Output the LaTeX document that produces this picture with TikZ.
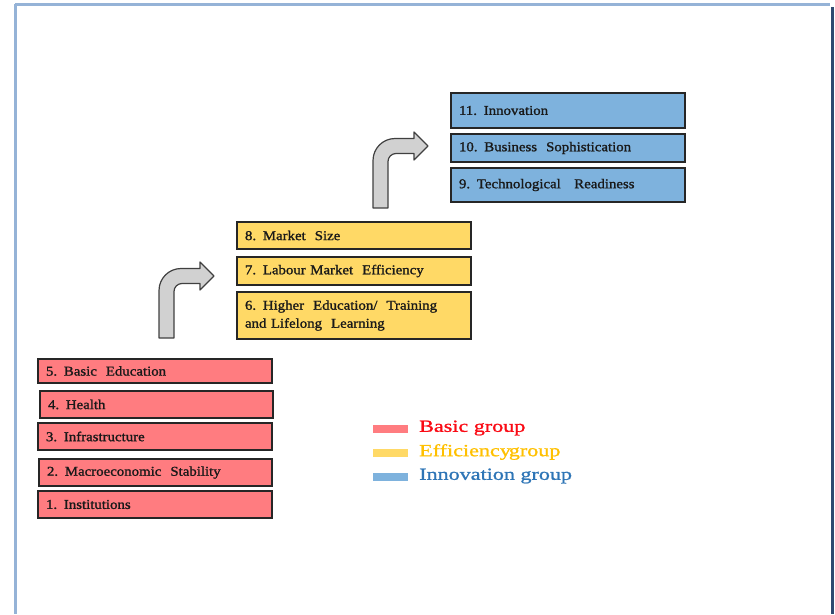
\documentclass[tikz,border=0pt]{standalone}
\usepackage{fontspec}
\setmainfont{Liberation Serif}
\newfontfamily\boxfont{Liberation Serif}[FakeStretch=1.1,FakeBold=1.3]
\newfontfamily\legfont{Liberation Serif}[FakeStretch=1.3,FakeBold=1.2]
\definecolor{basicfill}{RGB}{255,124,128}
\definecolor{efffill}{RGB}{255,217,102}
\definecolor{innofill}{RGB}{126,178,221}
\definecolor{basictext}{RGB}{250,10,20}
\definecolor{efftext}{RGB}{255,192,0}
\definecolor{innotext}{RGB}{46,117,182}
\definecolor{frameLight}{RGB}{149,179,215}
\definecolor{frameDark}{RGB}{47,74,112}
\newcommand\bentarrow[5]{% L B C H T
\draw[barrow] (#1,#2) -- (#1,{#3-7.5+22})
 .. controls (#1,{#3-7.5+22*0.448}) and ({#1+22*0.448},{#3-7.5}) .. ({#1+22},{#3-7.5})
 -- (#4,{#3-7.5}) -- (#4,{#3-14}) -- (#5,#3) -- (#4,{#3+14}) -- (#4,{#3+7.5})
 -- ({#1+23},{#3+7.5})
 .. controls ({#1+15+8*0.448},{#3+7.5}) and ({#1+15},{#3+7.5+8*0.448}) .. ({#1+15},{#3+15.5})
 -- ({#1+15},#2) -- cycle;}
\begin{document}
\begin{tikzpicture}[x=1pt,y=-1pt,
  gbox/.style={draw=black!85,line width=1.3pt,inner xsep=8pt,inner ysep=0pt,
    align=left,font=\boxfont\fontsize{13.5}{18}\selectfont,text=black!90},
  bbox/.style={gbox,fill=basicfill},
  ebox/.style={gbox,fill=efffill},
  ibox/.style={gbox,fill=innofill},
  barrow/.style={draw=black!75,fill=black!18,line width=1.2pt,line join=round},
  swatch/.style={inner sep=0pt,minimum width=35pt,minimum height=8pt},
  legtext/.style={anchor=west,inner sep=0pt,font=\legfont\fontsize{17}{20}\selectfont}]
\useasboundingbox (0,0) rectangle (835,614);
% frame
\draw[frameLight,line width=3pt] (15,4) -- (830,4);
\draw[frameLight,line width=2.5pt] (15.5,4) -- (15.5,614);
\draw[frameDark,line width=3pt] (832.5,7) -- (832.5,614);
% basic group
\node[bbox,minimum width=234pt,minimum height=24pt,text width=218pt] (b5) at (155,371) {5. Basic~~Education};
\node[bbox,minimum width=233pt,minimum height=27pt,text width=217pt] (b4) at (156.5,404.5) {4. Health};
\node[bbox,minimum width=234pt,minimum height=27pt,text width=218pt] (b3) at (155,436.5) {3. Infrastructure};
\node[bbox,minimum width=233pt,minimum height=27pt,text width=217pt] (b2) at (155.5,472.5) {2. Macroeconomic~~Stability};
\node[bbox,minimum width=234pt,minimum height=27pt,text width=218pt] (b1) at (155,504.5) {1. Institutions};
% efficiency group
\node[ebox,minimum width=234pt,minimum height=27pt,text width=218pt] (e8) at (354,235.5) {8. Market~~Size};
\node[ebox,minimum width=234pt,minimum height=28pt,text width=218pt] (e7) at (354,271) {7. Labour Market~~Efficiency};
\node[ebox,minimum width=234pt,minimum height=47pt,text width=218pt] (e6) at (354,315.5) {6. Higher~~Education/~~Training\\and Lifelong~~Learning};
% innovation group
\node[ibox,minimum width=234pt,minimum height=35pt,text width=218pt] (i11) at (568,110.5) {11. Innovation};
\node[ibox,minimum width=234pt,minimum height=28pt,text width=218pt] (i10) at (568,148) {10. Business~~Sophistication};
\node[ibox,minimum width=234pt,minimum height=34pt,text width=218pt] (i9) at (568,185) {9. Technological~~~Readiness};
% bent arrows
\bentarrow{159}{338}{276}{200}{214}
\bentarrow{373}{208}{146}{414}{428}
% legend
\node[swatch,fill=basicfill] (s1) at (390.5,429) {};
\node[swatch,fill=efffill] (s2) at (390.5,453) {};
\node[swatch,fill=innofill] (s3) at (390.5,477) {};
\node[legtext,text=basictext] (l1) at (419,428) {Basic group};
\node[legtext,text=efftext] (l2) at (419,452) {Efficiency\hspace{-2pt}group};
\node[legtext,text=innotext] (l3) at (419,476) {Innovation group};
\end{tikzpicture}
\end{document}
